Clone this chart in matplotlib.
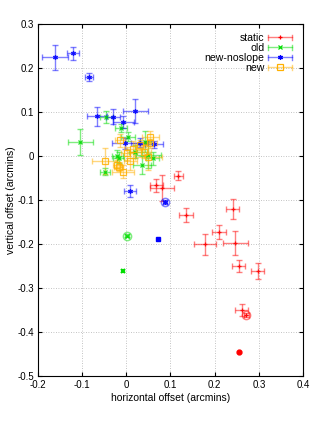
import matplotlib
matplotlib.use("Agg")
import matplotlib.pyplot as plt
from matplotlib.lines import Line2D
from matplotlib.legend_handler import HandlerBase
from matplotlib.ticker import FuncFormatter, MultipleLocator

plt.rcParams["font.family"] = ["Liberation Sans", "DejaVu Sans"]
plt.rcParams["font.size"] = 7

# static (red, "+")
static_x = [0.118, 0.068, 0.081, 0.136, 0.241, 0.209, 0.178, 0.247, 0.254, 0.297, 0.261, 0.272]
static_y = [-0.045, -0.067, -0.073, -0.134, -0.121, -0.173, -0.201, -0.197, -0.250, -0.261, -0.350, -0.361]
static_xerr = [0.011, 0.015, 0.028, 0.016, 0.015, 0.016, 0.024, 0.028, 0.014, 0.015, 0.014, 0.005]
static_yerr = [0.010, 0.015, 0.029, 0.016, 0.023, 0.016, 0.024, 0.027, 0.014, 0.018, 0.014, 0.005]
static_ring = (0.272, -0.361)
static_extra = (0.256, -0.445)

# old (green, "x")
old_x = [-0.104, -0.045, -0.012, 0.004, -0.049, -0.020, 0.050, 0.043, -0.017, 0.020, 0.035, 0.060, 0.002]
old_y = [0.032, 0.089, 0.063, 0.044, -0.036, 0.000, 0.003, 0.032, -0.004, 0.010, -0.020, -0.005, -0.181]
old_xerr = [0.029, 0.014, 0.013, 0.015, 0.011, 0.013, 0.028, 0.012, 0.012, 0.015, 0.020, 0.015, 0.004]
old_yerr = [0.029, 0.013, 0.009, 0.010, 0.008, 0.013, 0.030, 0.024, 0.012, 0.015, 0.020, 0.015, 0.004]
old_ring = (0.002, -0.181)
old_extra = (-0.008, -0.261)

# new-noslope (blue, "*")
noslope_x = [-0.161, -0.121, -0.084, -0.066, -0.030, -0.007, 0.020, 0.008, -0.002, 0.062, 0.030, 0.088]
noslope_y = [0.224, 0.233, 0.179, 0.090, 0.089, 0.077, 0.102, -0.080, 0.029, 0.027, 0.030, -0.105]
noslope_xerr = [0.029, 0.014, 0.009, 0.023, 0.016, 0.024, 0.028, 0.014, 0.030, 0.020, 0.020, 0.005]
noslope_yerr = [0.029, 0.014, 0.009, 0.022, 0.017, 0.013, 0.028, 0.014, 0.012, 0.008, 0.010, 0.005]
noslope_ring = (0.088, -0.105)
noslope_extra = (0.072, -0.189)

# new (orange, open square)
new_x = [-0.049, -0.021, -0.008, 0.002, 0.009, 0.050, 0.054, 0.032, 0.054, -0.014, -0.017, 0.015, 0.040]
new_y = [-0.011, -0.020, -0.036, 0.006, -0.011, -0.002, 0.029, 0.025, 0.044, 0.036, -0.024, 0.015, 0.010]
new_xerr = [0.029, 0.010, 0.025, 0.015, 0.015, 0.030, 0.015, 0.012, 0.019, 0.012, 0.010, 0.020, 0.015]
new_yerr = [0.030, 0.010, 0.015, 0.015, 0.020, 0.030, 0.010, 0.012, 0.012, 0.015, 0.010, 0.020, 0.015]

RED = "#ff0000"
GREEN = "#00dd00"
BLUE = "#0000ff"
ORANGE = "#ffb000"


class ErrBarHandler(HandlerBase):
    # gnuplot style key sample: horizontal bar with caps and point in the middle
    def create_artists(self, legend, orig, xd, yd, w, h, fs, trans):
        c = orig.get_color()
        yc = -yd + h / 2
        x0, x1 = -xd, -xd + w
        cap = h * 0.35
        arts = [
            Line2D([x0, x1], [yc, yc], color=c, alpha=0.5, lw=1),
            Line2D([x0, x0], [yc - cap, yc + cap], color=c, alpha=0.5, lw=1),
            Line2D([x1, x1], [yc - cap, yc + cap], color=c, alpha=0.5, lw=1),
            Line2D([(x0 + x1) / 2], [yc], color=c, marker=orig.get_marker(),
                   markersize=orig.get_markersize(), markerfacecolor=orig.get_markerfacecolor(),
                   markeredgewidth=0.9, linestyle="none"),
        ]
        for a in arts:
            a.set_transform(trans)
        return arts


fig = plt.figure(figsize=(3.16, 4.21), dpi=100)
ax = fig.add_axes([0.120, 0.107, 0.839, 0.836])

series = [
    (static_x, static_y, static_xerr, static_yerr, RED, "+", 3.5, "full", "static"),
    (old_x, old_y, old_xerr, old_yerr, GREEN, "x", 3, "full", "old"),
    (noslope_x, noslope_y, noslope_xerr, noslope_yerr, BLUE, (6, 2, 0), 3.5, "full", "new-noslope"),
    (new_x, new_y, new_xerr, new_yerr, ORANGE, "s", 4, "none", "new"),
]

handles = []
for xs, ys, xe, ye, col, mk, ms, fill, lab in series:
    ax.errorbar(xs, ys, xerr=xe, yerr=ye, fmt="none", ecolor=col, elinewidth=1,
                capsize=2, capthick=1, alpha=0.5, zorder=2)
    ax.plot(xs, ys, linestyle="none", marker=mk, color=col, markersize=ms,
            fillstyle=fill, markeredgewidth=0.9, alpha=0.85, zorder=3)
    handles.append(Line2D([], [], color=col, marker=mk, markersize=ms,
                          markerfacecolor=col if fill == "full" else "none", label=lab))

# circled points
for (px, py), col in [(static_ring, RED), (old_ring, GREEN), (noslope_ring, BLUE)]:
    ax.plot([px], [py], marker="o", markersize=6, markerfacecolor="none",
            markeredgecolor=col, alpha=0.5, markeredgewidth=1, linestyle="none", zorder=3)

# single points without errors
ax.plot([static_extra[0]], [static_extra[1]], marker="o", markersize=3.5, color=RED, linestyle="none")
ax.plot([old_extra[0]], [old_extra[1]], marker="x", markersize=3, color=GREEN, markeredgewidth=1.5, linestyle="none")
ax.plot([noslope_extra[0]], [noslope_extra[1]], marker="s", markersize=3.5, color=BLUE, linestyle="none")

ax.set_xlim(-0.2, 0.4)
ax.set_ylim(-0.5, 0.3)
ax.xaxis.set_major_locator(MultipleLocator(0.1))
ax.yaxis.set_major_locator(MultipleLocator(0.1))
fmt = FuncFormatter(lambda v, p: "%g" % round(v, 3))
ax.xaxis.set_major_formatter(fmt)
ax.yaxis.set_major_formatter(fmt)
ax.tick_params(direction="in", length=3, width=0.8, top=True, right=True, labelsize=7, pad=3)
ax.grid(True, color="#b0b0b0", linestyle=(0, (1, 2)), linewidth=0.6)
for s in ax.spines.values():
    s.set_linewidth(0.8)

ax.set_xlabel("horizontal offset (arcmins)", fontsize=7.5, labelpad=2)
ax.set_ylabel("vertical offset (arcmins)", fontsize=7.5, labelpad=1)

ax.legend(handles=handles, loc="upper right", bbox_to_anchor=(0.985, 0.995), frameon=False,
          markerfirst=False, fontsize=7.6, labelspacing=0.0, handlelength=2.2, handletextpad=0.4,
          borderpad=0.2, handler_map={Line2D: ErrBarHandler()})

fig.savefig("out.png", dpi=100)
